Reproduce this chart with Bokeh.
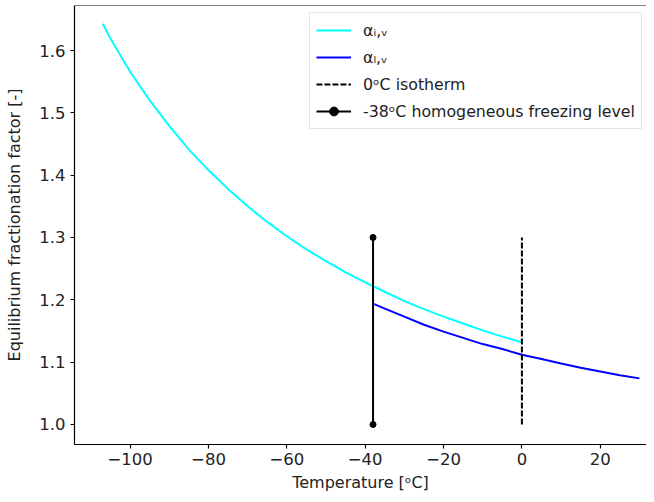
from bokeh.plotting import figure
from bokeh.models import Span, Legend, LegendItem, FixedTicker, NumeralTickFormatter, CustomJSTickFormatter
from bokeh.embed import file_html
from bokeh.resources import INLINE

# ---- data ----
temp_ice = [-107, -105, -100, -95, -90, -85, -80, -75, -70, -65, -60, -55, -50,
            -45, -40, -35, -30, -25, -20, -15, -10, -5, 0]
alpha_ice = [1.643, 1.619, 1.566, 1.520, 1.479, 1.441, 1.408, 1.378, 1.350, 1.325,
             1.302, 1.281, 1.262, 1.244, 1.228, 1.213, 1.198, 1.185, 1.173, 1.162,
             1.151, 1.141, 1.132]
temp_liq = [-38, -35, -30, -25, -20, -15, -10, -5, 0, 5, 10, 15, 20, 25, 30]
alpha_liq = [1.194, 1.186, 1.173, 1.160, 1.149, 1.139, 1.129, 1.121, 1.112, 1.105,
             1.098, 1.091, 1.085, 1.079, 1.074]
isotherm_x = [0, 0]
isotherm_y = [1.0, 1.3]
freeze_x = [-38, -38]
freeze_y = [1.0, 1.3]
x_ticks = [-100, -80, -60, -40, -20, 0, 20]
y_ticks = [1.0, 1.1, 1.2, 1.3, 1.4, 1.5, 1.6]
labels = ["\u03b1\u1d62,\u1d65", "\u03b1\u2097,\u1d65", "0\u1d52C isotherm",
          "-38\u1d52C homogeneous freezing level"]

FONT = "DejaVu Sans"
Y_TOP = 1.6722

p = figure(width=646, height=494, x_range=(-114.2, 31.8), y_range=(0.9679, Y_TOP),
           output_backend="svg", toolbar_location=None,
           min_border_left=74, min_border_right=0, min_border_top=5, min_border_bottom=50)
p.outline_line_color = None
p.grid.visible = False
p.background_fill_color = "white"
p.border_fill_color = "white"

r_ice = p.line(temp_ice, alpha_ice, line_color="#00FFFF", line_width=2)
r_liq = p.line(temp_liq, alpha_liq, line_color="#0000FF", line_width=2)
r_iso = p.line(isotherm_x, isotherm_y, line_color="black", line_width=2, line_dash="6 2")
r_frz = p.line(freeze_x, freeze_y, line_color="black", line_width=2)
r_frz_pts = p.scatter(freeze_x, freeze_y, size=6, color="black")

p.add_layout(Span(location=Y_TOP, dimension="width", line_color="black", line_width=1.2))

for ax in (p.xaxis[0], p.yaxis[0]):
    ax.axis_line_color = "black"
    ax.axis_line_width = 1.2
    ax.major_tick_out = 4
    ax.major_tick_in = 0
    ax.minor_tick_line_color = None
    ax.major_tick_line_width = 1.2
    ax.major_label_text_font = FONT
    ax.major_label_text_font_size = "16.5px"
    ax.major_label_text_color = "#222222"
    ax.axis_label_text_font = FONT
    ax.axis_label_text_font_size = "16px"
    ax.axis_label_text_font_style = "normal"
    ax.axis_label_text_color = "#222222"

p.xaxis.ticker = FixedTicker(ticks=x_ticks)
p.xaxis.formatter = CustomJSTickFormatter(
    code="return tick < 0 ? '\\u2212' + Math.abs(tick) : String(tick);")
p.xaxis.axis_label = "Temperature [\u1d52C]"
p.xaxis.major_label_standoff = 4
p.xaxis.axis_label_standoff = 5

p.yaxis.ticker = FixedTicker(ticks=y_ticks)
p.yaxis.formatter = NumeralTickFormatter(format="0.0")
p.yaxis.axis_label = "Equilibrium fractionation factor [-]"
p.yaxis.major_label_standoff = 5
p.yaxis.axis_label_standoff = 12

legend = Legend(items=[
    LegendItem(label=labels[0], renderers=[r_ice]),
    LegendItem(label=labels[1], renderers=[r_liq]),
    LegendItem(label=labels[2], renderers=[r_iso]),
    LegendItem(label=labels[3], renderers=[r_frz, r_frz_pts]),
], location=(235, 315))
legend.label_text_font = FONT
legend.label_text_font_size = "15.8px"
legend.label_text_color = "#222222"
legend.glyph_width = 35
legend.glyph_height = 22
legend.label_height = 22
legend.spacing = 5
legend.padding = 6
legend.margin = 0
legend.label_standoff = 12
legend.border_line_color = "#cccccc"
legend.border_line_width = 1
legend.background_fill_alpha = 0.8
p.add_layout(legend)

open("out.html", "w").write(file_html(p, INLINE))
